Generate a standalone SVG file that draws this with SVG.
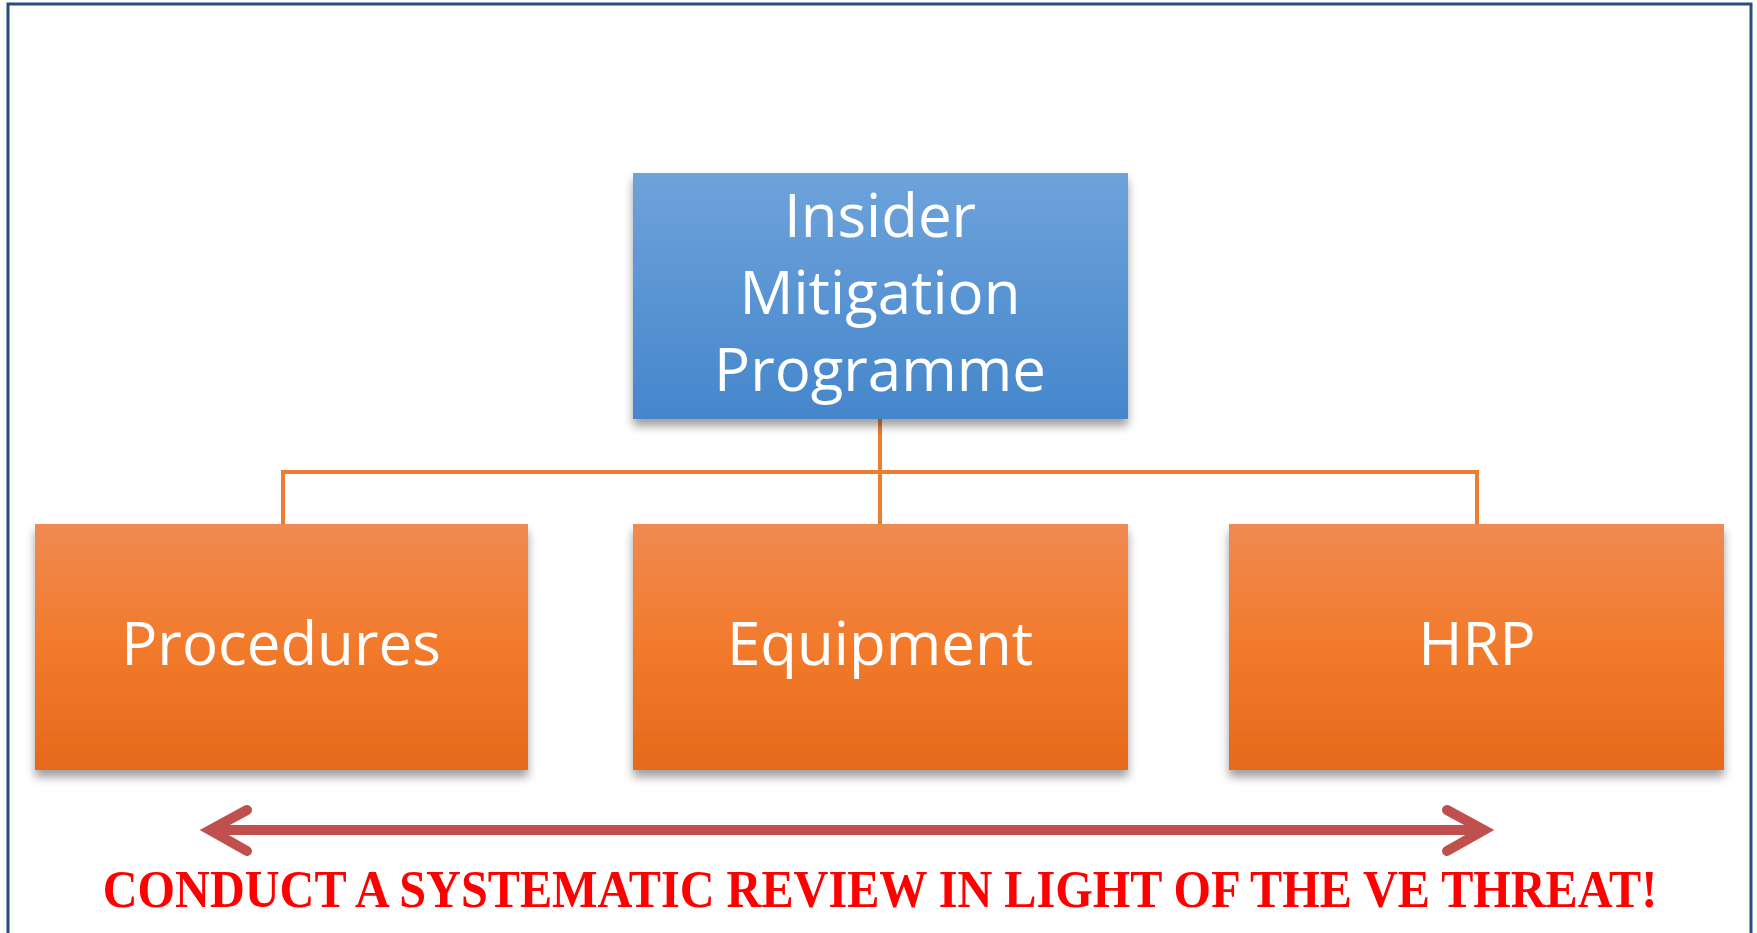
<svg xmlns="http://www.w3.org/2000/svg" width="1757" height="933" viewBox="0 0 1757 933">
  <defs>
    <linearGradient id="gBlue" x1="0" y1="0" x2="0" y2="1">
      <stop offset="0" stop-color="#6ea3db"/>
      <stop offset="1" stop-color="#4586cb"/>
    </linearGradient>
    <linearGradient id="gOrange" x1="0" y1="0" x2="0" y2="1">
      <stop offset="0" stop-color="#f08a52"/>
      <stop offset="0.5" stop-color="#f27a2b"/>
      <stop offset="1" stop-color="#e6691b"/>
    </linearGradient>
    <filter id="shadow" x="-10%" y="-10%" width="120%" height="130%">
      <feDropShadow dx="0" dy="7" stdDeviation="5" flood-color="#000" flood-opacity="0.38"/>
    </filter>
  </defs>
  <style>
    .lbl { font-family: "Open Sans", "Noto Sans", sans-serif; font-size: 60px; fill: #ffffff; text-anchor: middle; }
    .conn { fill: none; stroke: #ed7d31; stroke-width: 4; }
    .arrow { fill: none; stroke: #c0504d; stroke-width: 10; stroke-linecap: round; stroke-linejoin: miter; }
    .headline { font-family: "Liberation Serif", "Times New Roman", serif; font-weight: bold; font-size: 53px; fill: #ff0000; text-anchor: middle; }
  </style>
  <rect x="0" y="0" width="1757" height="933" fill="#ffffff"/>
  <rect id="frame" x="8" y="4" width="1743" height="940" fill="none" stroke="#254e7e" stroke-width="3"/>

  <g id="connectors">
    <line class="conn" x1="880" y1="419" x2="880" y2="524"/>
    <polyline class="conn" points="283,524 283,472 1477,472 1477,524"/>
  </g>

  <g id="node-insider">
    <rect x="633" y="173" width="495" height="246" fill="url(#gBlue)" filter="url(#shadow)"/>
    <text class="lbl" x="880" y="237">Insider</text>
    <text class="lbl" x="880" y="314">Mitigation</text>
    <text class="lbl" x="880" y="391">Programme</text>
  </g>

  <g id="node-procedures">
    <rect x="35" y="524" width="493" height="246" fill="url(#gOrange)" filter="url(#shadow)"/>
    <text class="lbl" x="281" y="665">Procedures</text>
  </g>

  <g id="node-equipment">
    <rect x="633" y="524" width="495" height="246" fill="url(#gOrange)" filter="url(#shadow)"/>
    <text class="lbl" x="880" y="665">Equipment</text>
  </g>

  <g id="node-hrp">
    <rect x="1229" y="524" width="495" height="246" fill="url(#gOrange)" filter="url(#shadow)"/>
    <text class="lbl" x="1477" y="665">HRP</text>
  </g>

  <g id="review-arrow">
    <line class="arrow" x1="212" y1="830" x2="1481" y2="830"/>
    <polyline class="arrow" points="247,810 210,830 247,851"/>
    <polyline class="arrow" points="1447,810 1484,830 1447,851"/>
  </g>

  <text class="headline" transform="translate(880,907) scale(0.91,1)" x="0" y="0">CONDUCT A SYSTEMATIC REVIEW IN LIGHT OF THE VE THREAT!</text>
</svg>
